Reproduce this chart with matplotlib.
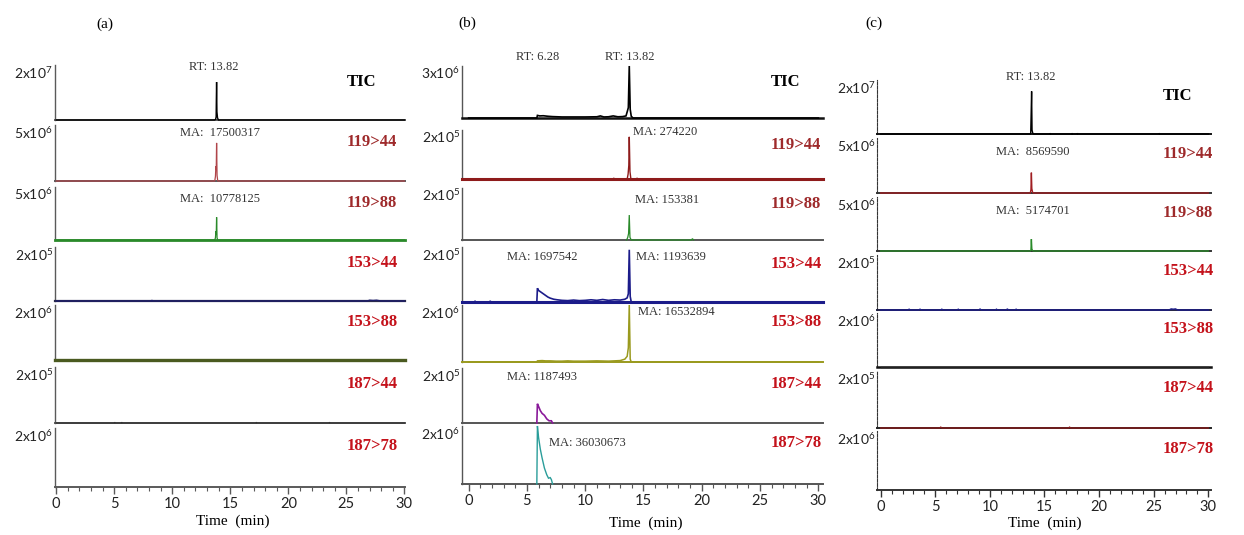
import matplotlib
matplotlib.use("Agg")
import matplotlib.pyplot as plt
from matplotlib.ticker import MultipleLocator, FixedLocator

plt.rcParams['mathtext.default'] = 'regular'
SERIF = 'Liberation Serif'
SANS = 'Lato'

W, H = 1244, 535

# ---------------- data ----------------
channels = ["TIC", "119>44", "119>88", "153>44", "153>88", "187>44", "187>78"]
panel_titles = ["(a)", "(b)", "(c)"]
xticks = [0, 5, 10, 15, 20, 25, 30]

# full scale of each row: mantissa x 10^exponent
a_scale_mant = [2, 5, 5, 2, 2, 2, 2]
a_scale_exp = [7, 6, 6, 5, 6, 5, 6]
b_scale_mant = [3, 2, 2, 2, 2, 2, 2]
b_scale_exp = [6, 5, 5, 5, 6, 5, 6]
c_scale_mant = [2, 5, 5, 2, 2, 2, 2]
c_scale_exp = [7, 6, 6, 5, 6, 5, 6]

# ---- panel (a) traces: time (min), intensity
a_tic_t = [0, 13.66, 13.74, 13.78, 13.80, 13.82, 13.85, 13.90, 13.98, 30]
a_tic_y = [0, 0, 3e5, 1.2e6, 8.0e6, 1.38e7, 3.0e6, 8e5, 0, 0]
a_119_44_t = [0, 13.66, 13.72, 13.76, 13.79, 13.82, 13.86, 13.92, 30]
a_119_44_y = [0, 0, 4e5, 1.3e6, 1.0e6, 3.4e6, 5e5, 0, 0]
a_119_88_t = [0, 13.66, 13.72, 13.76, 13.79, 13.82, 13.86, 13.92, 30]
a_119_88_y = [0, 0, 2e5, 8e5, 5e5, 2.15e6, 2e5, 0, 0]
a_153_44_t = [0, 8.2, 8.25, 8.3, 26.8, 27.0, 27.3, 27.6, 28.0, 30]
a_153_44_y = [0, 0, 3e3, 0, 0, 3e3, 2e3, 3e3, 0, 0]
a_153_88_t = [0, 30]
a_153_88_y = [0, 0]
a_187_44_t = [0, 5.0, 5.05, 5.1, 5.6, 5.65, 5.7, 17.2, 17.25, 17.3, 23.5, 23.55, 23.6, 30]
a_187_44_y = [0, 0, 2e3, 0, 0, 2e3, 0, 0, 2e3, 0, 0, 2e3, 0, 0]
a_187_78_t = []
a_187_78_y = []

# ---- panel (b) traces
b_tic_t = [0, 5.85, 5.9, 6.1, 6.4, 6.8, 7.2, 7.6, 8.0, 9.0, 10.0, 11.0, 11.3, 11.6,
           12.0, 12.4, 12.8, 13.2, 13.5, 13.62, 13.70, 13.78, 13.86, 13.95, 14.1, 30]
b_tic_y = [0, 0, 1.5e5, 1.2e5, 1.3e5, 1.0e5, 8e4, 7e4, 6e4, 6e4, 6e4, 7e4, 1.2e5, 6e4,
           7e4, 1.2e5, 7e4, 8e4, 1.2e5, 4e5, 6e5, 3.0e6, 5e5, 1e5, 0, 0]
b_119_44_t = [0, 12.4, 12.45, 12.5, 13.6, 13.68, 13.74, 13.78, 13.84, 13.92, 14.4, 14.45, 14.5, 30]
b_119_44_y = [0, 0, 4e3, 0, 0, 2e4, 5.5e4, 1.72e5, 3e4, 0, 0, 4e3, 0, 0]
b_119_88_t = [13.55, 13.65, 13.72, 13.78, 13.84, 13.95, 19.1, 19.2, 19.3]
b_119_88_y = [0, 1e4, 2.5e4, 9.6e4, 1e4, 0, 0, 5e3, 0]
b_153_44_t = [0, 0.5, 0.55, 0.6, 1.8, 1.85, 1.9, 5.85, 5.9, 6.0, 6.2, 6.4, 6.6, 6.8, 7.0,
              7.3, 7.6, 8.0, 8.5, 9.0, 9.5, 10.0, 10.5, 11.0, 11.5, 12.0, 12.5, 13.0,
              13.4, 13.6, 13.7, 13.78, 13.86, 13.95, 30]
b_153_44_y = [0, 0, 4e3, 0, 0, 4e3, 0, 0, 5e4, 4.2e4, 3.6e4, 3.0e4, 2.4e4, 1.8e4, 1.4e4,
              1.0e4, 8e3, 6e3, 5e3, 7e3, 5e3, 6e3, 8e3, 6e3, 9e3, 6e3, 8e3, 7e3,
              1e4, 1.5e4, 3e4, 1.9e5, 2e4, 0, 0]
b_153_88_t = [0, 5.85, 5.9, 6.3, 6.6, 7.0, 7.5, 8.0, 8.5, 9.0, 10.0, 11.0, 12.0, 12.5,
              13.0, 13.4, 13.6, 13.7, 13.78, 13.86, 13.95, 30]
b_153_88_y = [0, 0, 4e4, 5e4, 4e4, 4e4, 3e4, 3e4, 4e4, 3e4, 3e4, 4e4, 3e4, 4e4,
              5e4, 1.0e5, 2.0e5, 5e5, 2.0e6, 1e5, 0, 0]
b_187_44_t = [5.85, 5.9, 6.0, 6.15, 6.3, 6.5, 6.7, 6.9, 7.1, 7.2]
b_187_44_y = [0, 7e4, 6e4, 4.5e4, 3.5e4, 2.8e4, 1.5e4, 8e3, 8e3, 0]
b_187_78_t = [5.85, 5.9, 6.0, 6.15, 6.3, 6.5, 6.7, 6.85, 7.0, 7.1, 7.2]
b_187_78_y = [0, 2.0e6, 1.6e6, 1.2e6, 9e5, 5.5e5, 3.2e5, 2.0e5, 2.2e5, 1.5e5, 0]

# ---- panel (c) traces
c_tic_t = [0, 13.68, 13.74, 13.78, 13.82, 13.86, 13.92, 14.0, 15.5, 15.52, 15.55,
           17.5, 17.52, 17.55, 18.0, 18.02, 18.05, 25.5, 25.52, 25.55, 30]
c_tic_y = [0, 0, 4e5, 8e6, 1.58e7, 1.5e6, 4e5, 0, 0, 3e5, 0,
           0, 3e5, 0, 0, 3e5, 0, 0, 3e5, 0, 0]
c_119_44_t = [0, 13.7, 13.76, 13.8, 13.84, 13.9, 13.98, 30]
c_119_44_y = [0, 0, 3e5, 1.85e6, 4e5, 1e5, 0, 0]
c_119_88_t = [0, 13.7, 13.76, 13.8, 13.84, 13.9, 13.98, 30]
c_119_88_y = [0, 0, 1e5, 1.1e6, 2e5, 5e4, 0, 0]
c_153_44_t = [0, 2.5, 2.6, 2.7, 3.5, 3.6, 3.7, 5.5, 5.6, 5.7, 7.0, 7.1, 7.2, 9.0, 9.1, 9.2,
              10.5, 10.6, 10.7, 11.5, 11.6, 11.7, 12.3, 12.4, 12.5, 26.4, 26.6, 26.8, 27.0, 27.2, 30]
c_153_44_y = [0, 0, 3e3, 0, 0, 3e3, 0, 0, 3e3, 0, 0, 3e3, 0, 0, 4e3, 0,
              0, 3e3, 0, 0, 4e3, 0, 0, 3e3, 0, 0, 4e3, 3e3, 4e3, 0, 0]
c_153_88_t = [0, 30]
c_153_88_y = [0, 0]
c_187_44_t = [0, 5.4, 5.5, 5.6, 17.2, 17.3, 17.4, 30]
c_187_44_y = [0, 0, 3e3, 0, 0, 3e3, 0, 0]
c_187_78_t = []
c_187_78_y = []

a_traces = [(a_tic_t, a_tic_y), (a_119_44_t, a_119_44_y), (a_119_88_t, a_119_88_y),
            (a_153_44_t, a_153_44_y), (a_153_88_t, a_153_88_y),
            (a_187_44_t, a_187_44_y), (a_187_78_t, a_187_78_y)]
b_traces = [(b_tic_t, b_tic_y), (b_119_44_t, b_119_44_y), (b_119_88_t, b_119_88_y),
            (b_153_44_t, b_153_44_y), (b_153_88_t, b_153_88_y),
            (b_187_44_t, b_187_44_y), (b_187_78_t, b_187_78_y)]
c_traces = [(c_tic_t, c_tic_y), (c_119_44_t, c_119_44_y), (c_119_88_t, c_119_88_y),
            (c_153_44_t, c_153_44_y), (c_153_88_t, c_153_88_y),
            (c_187_44_t, c_187_44_y), (c_187_78_t, c_187_78_y)]

# annotations: (row, x, text)
a_notes = [(0, 13.6, "RT: 13.82"), (1, 14.1, "MA:  17500317"), (2, 14.1, "MA:  10778125")]
b_notes = [(0, 5.96, "RT: 6.28"), (0, 13.8, "RT: 13.82"), (1, 14.1, "MA: 274220"),
           (2, 14.3, "MA: 153381"), (3, 3.3, "MA: 1697542"), (3, 14.4, "MA: 1193639"),
           (4, 14.5, "MA: 16532894"), (5, 3.3, "MA: 1187493"), (6, 6.9, "MA: 36030673")]
c_notes = [(0, 13.7, "RT: 13.82"), (1, 13.9, "MA:  8569590"), (2, 13.9, "MA:  5174701")]

# ---------------- styles / layout ----------------
label_colors = ['black', '#9e2a2b', '#9e2a2b', '#c4121b', '#c4121b', '#c4121b', '#c4121b']
a_colors = ['black', '#b0454a', '#2a8a2a', '#1c1c6a', '#4a5a20', '#333333', '#333333']
b_colors = ['black', '#8e1b1b', '#2a8a2a', '#1c1c8a', '#9a9a1e', '#8a1a9a', '#2a9d9a']
c_colors = ['black', '#a01e22', '#2a8a2a', '#1c1c8a', '#222222', '#8b1a1a', '#333333']
a_lw = [1.0, 0.9, 0.9, 1.0, 1.0, 1.0, 1.0]
b_lw = [1.2, 1.0, 0.9, 1.2, 1.1, 1.2, 1.0]
c_lw = [1.0, 1.0, 1.0, 1.0, 1.0, 1.0, 1.0]
# baseline (bottom spine) colour & width per row; None -> neutral grey
a_base = [None, None, ('#2a8a2a', 2.0), ('#2a2a4a', 1.6), ('#4a5a20', 2.4), None, None]
b_base = [('#111111', 1.8), ('#8e1b1b', 2.2), None, ('#1c1c8a', 2.2), ('#9a9a1e', 1.4), None, None]
c_base = [('#111111', 1.4), None, None, ('#222244', 1.4), ('#111111', 1.8), ('#222222', 1.4), None]

layouts = [
    dict(left=55, right=405, xlim=(-0.1, 30.05),
         base=[120, 181, 240, 301, 360, 423, 487], top=[65, 125, 187, 247, 305, 367, 428],
         labx=0.834, title=(105, 24), notes_y=[0.96, 0.86, 0.77, 0.8, 0.8, 0.8, 0.8],
         xlab=(233, 521), spine='#5a5a5a', dashed=False),
    dict(left=462, right=823, xlim=(-0.57, 30.4),
         base=[118, 179, 240, 302, 362, 423, 484], top=[66, 130, 188, 247, 305, 368, 426],
         labx=0.856, title=(467, 23), notes_y=[1.17, 0.96, 0.77, 0.82, 0.87, 0.84, 0.71],
         xlab=(646, 523), spine='#555555', dashed=False),
    dict(left=877, right=1211, xlim=(-0.34, 30.25),
         base=[134, 193, 251, 310, 367, 428, 490], top=[80, 138, 197, 255, 313, 371, 431],
         labx=0.856, title=(874, 23), notes_y=[1.06, 0.75, 0.75, 0.8, 0.8, 0.8, 0.8],
         xlab=(1045, 523), spine='#333333', dashed=True),
]

panels = [
    (a_traces, a_scale_mant, a_scale_exp, a_colors, a_lw, a_notes, a_base),
    (b_traces, b_scale_mant, b_scale_exp, b_colors, b_lw, b_notes, b_base),
    (c_traces, c_scale_mant, c_scale_exp, c_colors, c_lw, c_notes, c_base),
]

fig = plt.figure(figsize=(W / 100, H / 100), dpi=100)

for pi, (traces, mant, expo, colors, lws, notes, bases) in enumerate(panels):
    L = layouts[pi]
    axes = []
    for r in range(7):
        top, base = L['top'][r], L['base'][r]
        ax = fig.add_axes([L['left'] / W, 1 - base / H, (L['right'] - L['left']) / W, (base - top) / H])
        axes.append(ax)
        scale = mant[r] * 10 ** expo[r]
        ax.set_xlim(*L['xlim'])
        ax.set_ylim(0, scale)
        for s in ['top', 'right']:
            ax.spines[s].set_visible(False)
        ax.spines['left'].set_color(L['spine'])
        ax.spines['left'].set_linewidth(1.0)
        if bases[r] is None:
            ax.spines['bottom'].set_color(L['spine'])
            ax.spines['bottom'].set_linewidth(1.4)
        else:
            ax.spines['bottom'].set_color(bases[r][0])
            ax.spines['bottom'].set_linewidth(bases[r][1])
        if L['dashed']:
            ax.spines['left'].set_linestyle((0, (2.5, 1.2)))
            ax.spines['left'].set_linewidth(0.8)
        ax.set_yticks([])
        t, y = traces[r]
        if len(t):
            ax.plot(t, y, color=colors[r], lw=lws[r], clip_on=False, zorder=3,
                    solid_joinstyle='miter')
        # y full-scale label
        ax.text(-0.006, 0.86, f"{mant[r]}x10$^{{{expo[r]}}}$", transform=ax.transAxes,
                ha='right', va='center', fontsize=10, family=SANS, color='#222222')
        # channel label
        ax.text(L['labx'], 0.70, channels[r], transform=ax.transAxes, ha='left', va='center',
                fontsize=12, family=SERIF, fontweight='bold', color=label_colors[r])
        if r < 6:
            ax.set_xticks([])
        else:
            ax.xaxis.set_major_locator(FixedLocator(xticks))
            ax.xaxis.set_minor_locator(MultipleLocator(1))
            ax.tick_params(axis='x', which='major', length=5, width=1.0, color=L['spine'],
                           direction='out', pad=2, labelsize=10.5)
            ax.tick_params(axis='x', which='minor', length=3, width=0.8, color=L['spine'],
                           direction='out')
            for lab in ax.get_xticklabels():
                lab.set_family(SANS)
                lab.set_color('#222222')
    for (r, x, txt) in notes:
        ax = axes[r]
        ha = 'center' if pi != 1 else ('center' if r == 0 else 'left')
        ax.text(x, L['notes_y'][r], txt, transform=ax.get_xaxis_transform(), ha=ha,
                va='center', fontsize=9, family=SERIF, color='#333333')
    fig.text(L['title'][0] / W, 1 - L['title'][1] / H, panel_titles[pi], ha='center',
             va='center', fontsize=11, family=SERIF)
    fig.text(L['xlab'][0] / W, 1 - L['xlab'][1] / H, "Time  (min)", ha='center', va='center',
             fontsize=11, family=SERIF)

fig.savefig("out.png", dpi=100)
